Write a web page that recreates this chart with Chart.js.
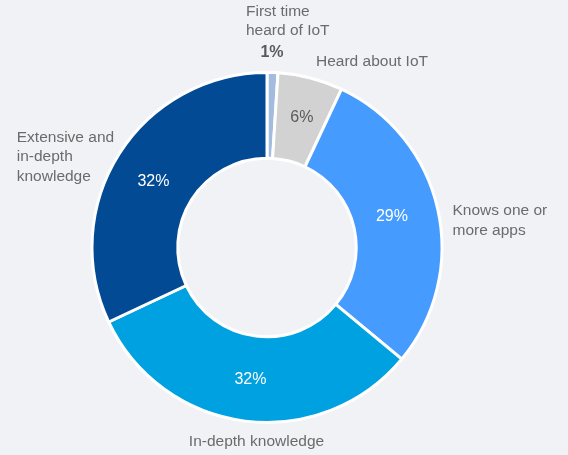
<!DOCTYPE html>
<html lang="en">
<head>
    <meta charset="UTF-8">
    <title>IoT awareness</title>
    <script src="https://cdn.jsdelivr.net/npm/chart.js"></script>
    <style>
        html, body {
            margin: 0;
            padding: 0;
            background-color: #f1f2f6;
        }
        .chart-container {
            width: 568px;
            height: 455px;
            position: relative;
        }
    </style>
</head>
<body>
    <div class="chart-container">
        <canvas id="iotChart"></canvas>
    </div>

    <script>
        // Survey answers, clockwise from 12 o'clock
        const categories = ['First time heard of IoT', 'Heard about IoT', 'Knows one or more apps', 'In-depth knowledge', 'Extensive and in-depth knowledge'];
        const shares = [1, 6, 29, 32, 32];
        const labelLines = [
            ['First time', 'heard of IoT'],
            ['Heard about IoT'],
            ['Knows one or', 'more apps'],
            ['In-depth knowledge'],
            ['Extensive and', 'in-depth', 'knowledge']
        ];

        const sliceColors = ['#a3bbdf', '#d2d2d2', '#469bff', '#00a1e1', '#024b94'];

        // where each category name goes, relative to the ring centre (in outer radii)
        const nameLayout = [
            { dx: -0.12, dy: -1.35, align: 'left', valueBelow: true },
            { dx: 0.28, dy: -1.06, align: 'left' },
            { dx: 1.06, dy: -0.21, align: 'left' },
            { dx: -0.06, dy: 1.11, align: 'center' },
            { dx: -1.43, dy: -0.63, align: 'left' }
        ];
        // small hand nudges (px) for the percentages inside the ring
        const valueNudge = [[0, 0], [2, -2], [-4, -2], [0, 1], [-2, 5]];

        const textFont = '15.5px "Liberation Sans", Arial, sans-serif';
        const lineGap = 19.5;

        const labelPlugin = {
            id: 'sliceLabels',
            afterDatasetsDraw(chart) {
                const ctx = chart.ctx;
                const arcs = chart.getDatasetMeta(0).data;
                const cx = arcs[0].x;
                const cy = arcs[0].y;
                const r = arcs[0].outerRadius;
                ctx.save();
                ctx.textBaseline = 'middle';

                arcs.forEach((arc, i) => {
                    const value = shares[i] + '%';
                    const spot = nameLayout[i];
                    const x = cx + spot.dx * r;
                    const y = cy + spot.dy * r;

                    ctx.font = textFont;
                    ctx.fillStyle = '#6b6b6b';
                    ctx.textAlign = spot.align;
                    labelLines[i].forEach((line, k) => {
                        ctx.fillText(line, x, y + k * lineGap);
                    });

                    if (spot.valueBelow) {
                        // slice too thin, value sits under the name
                        ctx.font = 'bold 16px "Liberation Sans", Arial, sans-serif';
                        ctx.fillStyle = '#5a5a5a';
                        ctx.textAlign = 'center';
                        ctx.fillText(value, x + 26, y + labelLines[i].length * lineGap + 2);
                        return;
                    }

                    const mid = arc.getCenterPoint();
                    ctx.font = '16px "Liberation Sans", Arial, sans-serif';
                    ctx.textAlign = 'center';
                    ctx.fillStyle = i === 1 ? '#5a5a5a' : '#ffffff';
                    ctx.fillText(value, mid.x + valueNudge[i][0], mid.y + valueNudge[i][1]);
                });
                ctx.restore();
            }
        };

        const ctx = document.getElementById('iotChart').getContext('2d');
        new Chart(ctx, {
            type: 'doughnut',
            data: {
                labels: categories,
                datasets: [{
                    data: shares,
                    backgroundColor: sliceColors,
                    borderColor: '#ffffff',
                    borderWidth: 3
                }]
            },
            options: {
                responsive: true,
                maintainAspectRatio: false,
                animation: false,
                cutout: '51%',
                layout: {
                    padding: { left: 90, right: 124, top: 71, bottom: 31 }
                },
                plugins: {
                    legend: { display: false },
                    tooltip: { enabled: false }
                }
            },
            plugins: [labelPlugin]
        });
    </script>
</body>
</html>
